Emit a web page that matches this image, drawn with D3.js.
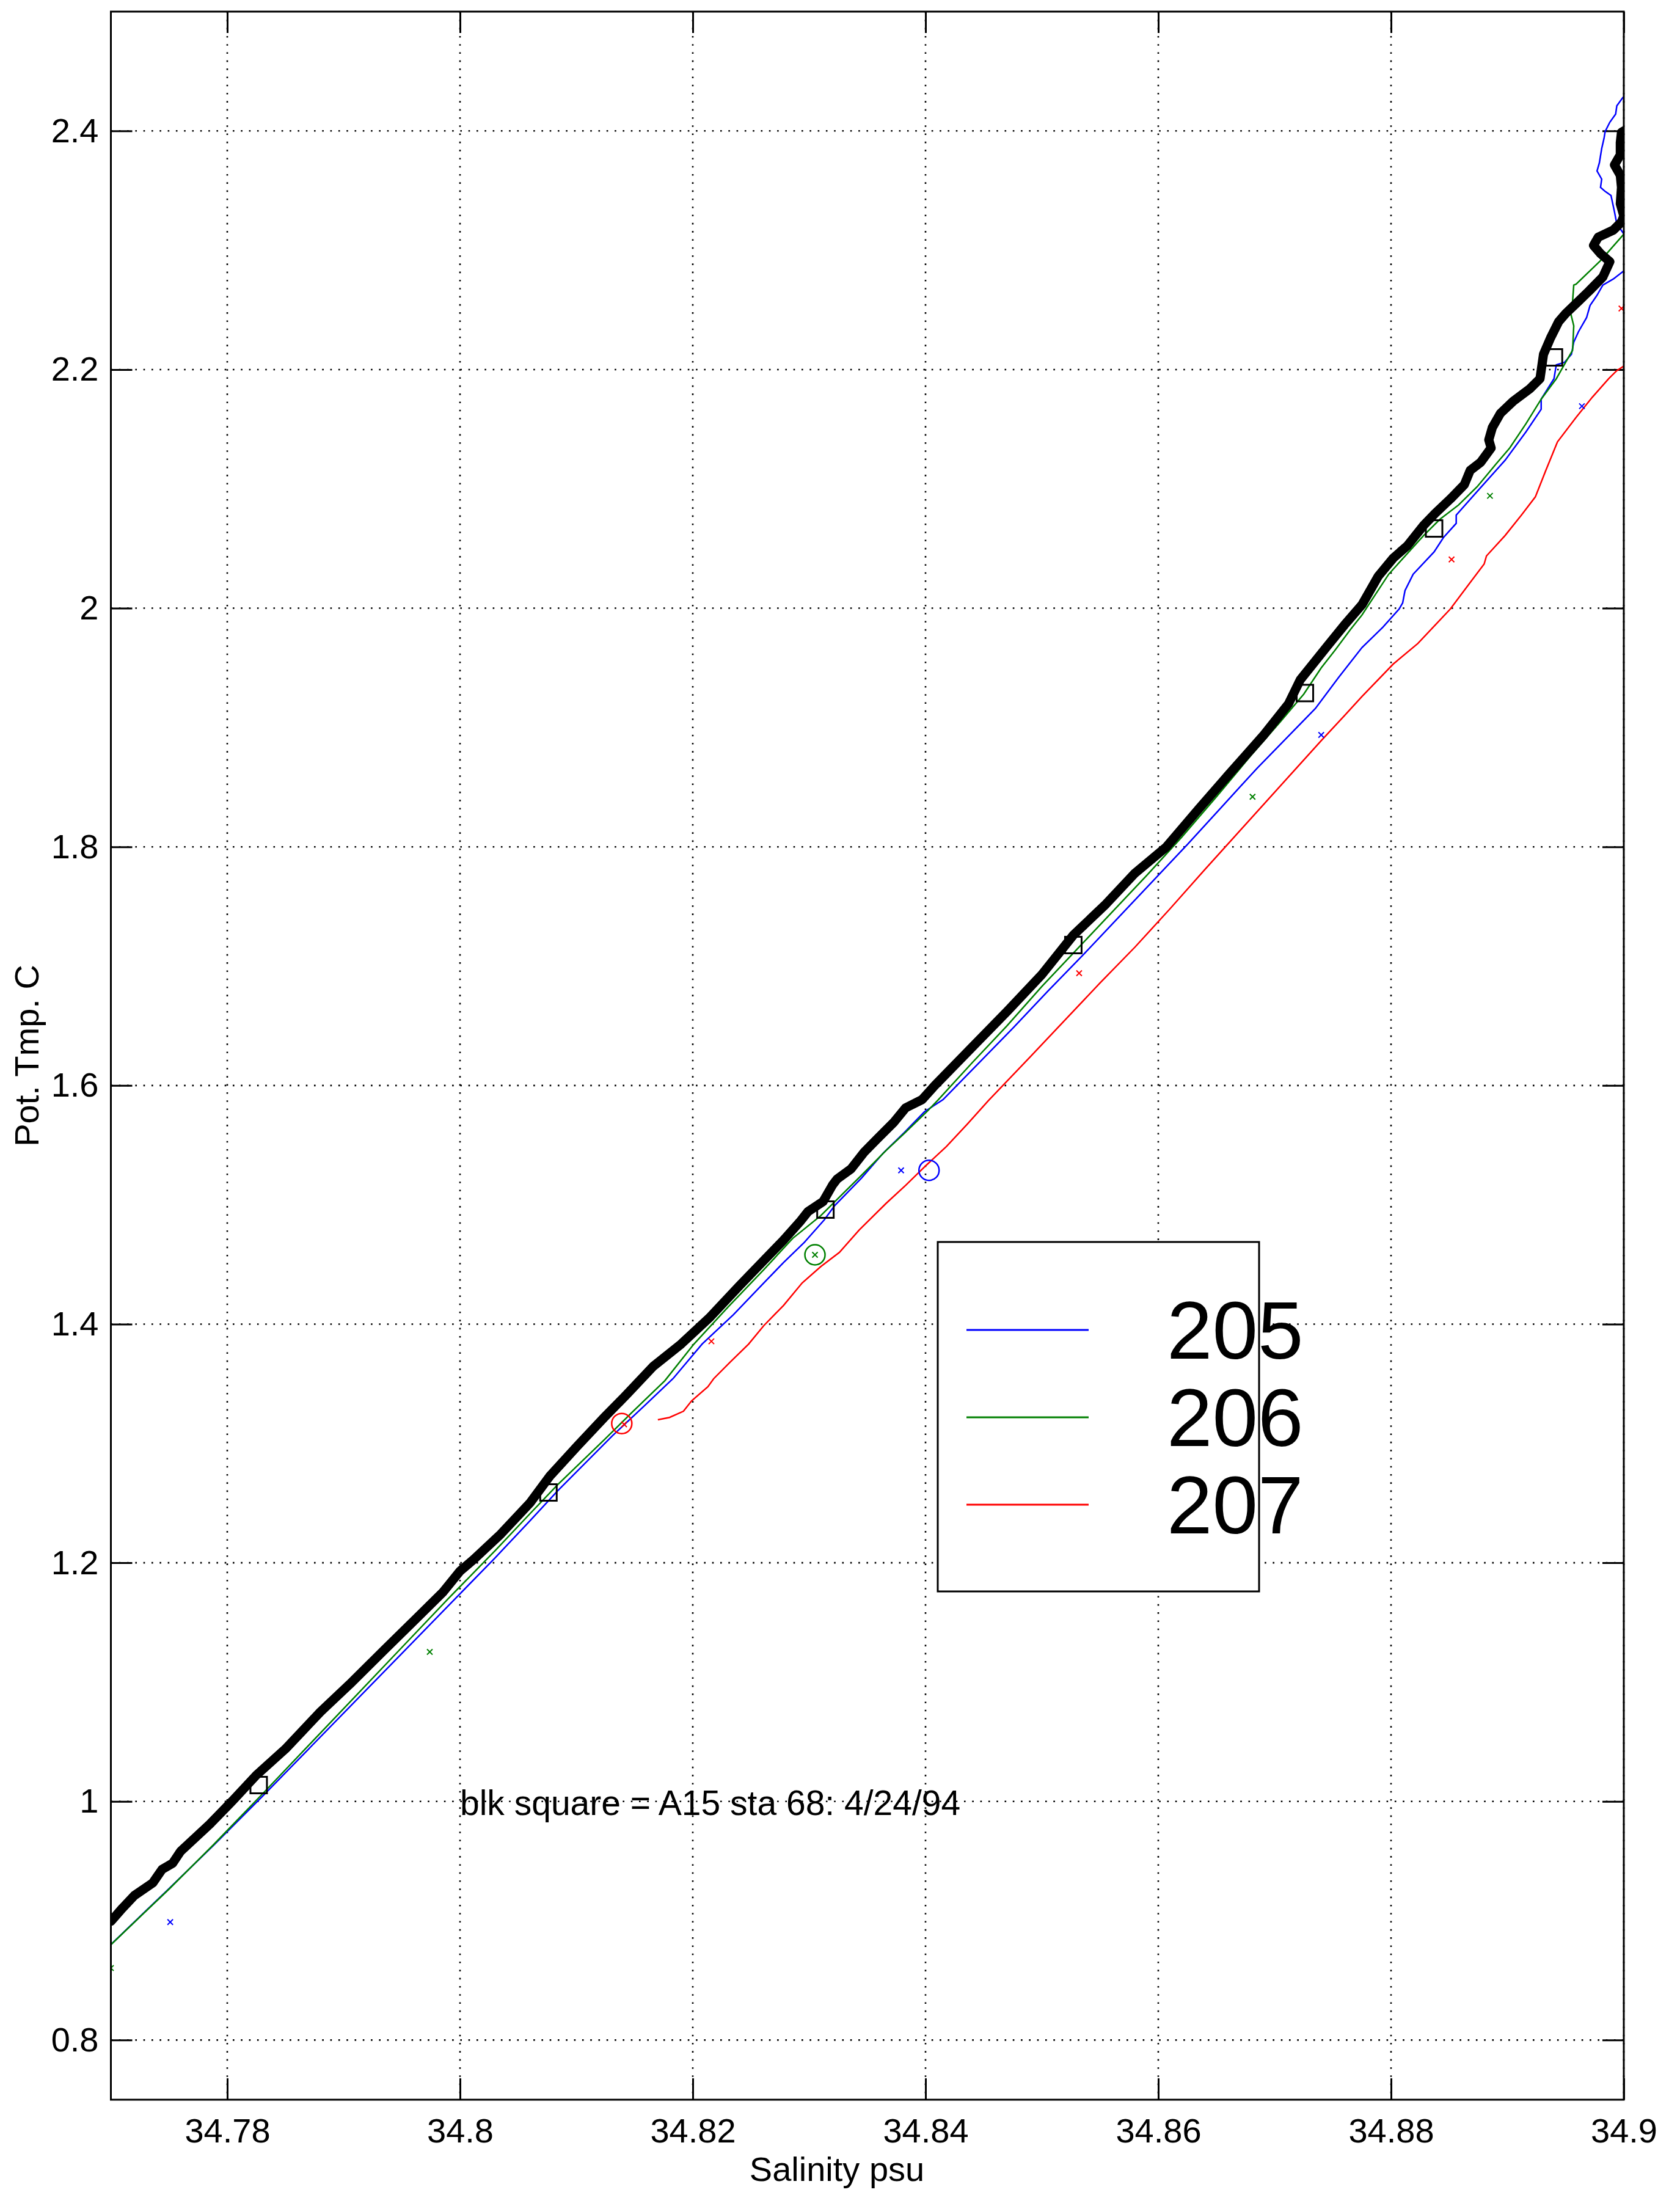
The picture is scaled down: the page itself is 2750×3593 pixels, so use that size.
<!DOCTYPE html>
<html>
<head>
<meta charset="utf-8">
<title>Pot. Tmp. vs Salinity</title>
<script src="https://d3js.org/d3.v7.min.js"></script>
<style>
  body { margin: 0; background: #fff; }
  svg { display: block; font-family: "Liberation Sans", Arial, sans-serif; }
  .grid line { stroke: #000; stroke-width: 2.6; stroke-dasharray: 2.6,10.7; }
  .tick line { stroke: #000; stroke-width: 3; }
  .tick text { font-size: 56px; fill: #000; }
</style>
</head>
<body>
<div id="chart"></div>
<script>
// tick values
const xTicks = [34.78, 34.8, 34.82, 34.84, 34.86, 34.88, 34.9];
const yTicks = [0.8, 1, 1.2, 1.4, 1.6, 1.8, 2, 2.2, 2.4];

// A15 sta 68 profile (salinity, pot. temp)
const sta68 = [[34.7700,0.8995],[34.7710,0.9106],[34.7720,0.9210],[34.7736,0.9317],[34.7744,0.9430],[34.7753,0.9481],[34.7760,0.9583],[34.7785,0.9809],[34.7805,1.0010],[34.7825,1.0220],[34.7850,1.0440],[34.7880,1.0750],[34.7905,1.0980],[34.7935,1.1270],[34.7960,1.1510],[34.7985,1.1750],[34.8000,1.1930],[34.8012,1.2030],[34.8035,1.2240],[34.8060,1.2500],[34.8077,1.2724],[34.8101,1.2980],[34.8124,1.3219],[34.8143,1.3408],[34.8166,1.3646],[34.8190,1.3833],[34.8215,1.4060],[34.8240,1.4320],[34.8261,1.4533],[34.8278,1.4704],[34.8292,1.4857],[34.8299,1.4943],[34.8312,1.5028],[34.8320,1.5164],[34.8324,1.5216],[34.8336,1.5301],[34.8347,1.5438],[34.8359,1.5557],[34.8373,1.5694],[34.8383,1.5813],[34.8397,1.5881],[34.8408,1.6000],[34.8440,1.6320],[34.8470,1.6620],[34.8500,1.6930],[34.8527,1.7260],[34.8555,1.7520],[34.8580,1.7780],[34.8607,1.8000],[34.8635,1.8320],[34.8660,1.8600],[34.8690,1.8930],[34.8712,1.9200],[34.8722,1.9400],[34.8745,1.9680],[34.8760,1.9860],[34.8775,2.0029],[34.8789,2.0268],[34.8802,2.0421],[34.8814,2.0523],[34.8828,2.0694],[34.8838,2.0796],[34.8851,2.0916],[34.8863,2.1036],[34.8868,2.1155],[34.8877,2.1223],[34.8886,2.1343],[34.8884,2.1411],[34.8887,2.1513],[34.8894,2.1633],[34.8905,2.1735],[34.8919,2.1837],[34.8928,2.1923],[34.8931,2.2128],[34.8937,2.2264],[34.8944,2.2401],[34.8950,2.2469],[34.8961,2.2572],[34.8970,2.2657],[34.8982,2.2776],[34.8988,2.2904],[34.8980,2.2972],[34.8974,2.3040],[34.8978,2.3109],[34.8991,2.3169],[34.8998,2.3237],[34.9000,2.3288],[34.8997,2.3390],[34.8998,2.3527],[34.8997,2.3629],[34.8992,2.3715],[34.8997,2.3800],[34.8997,2.3903],[34.8998,2.3988],[34.9000,2.4000]];
const sta68Squares = [[34.7827,1.0137],[34.8076,1.2589],[34.8314,1.4960],[34.8527,1.7177],[34.8726,1.9289],[34.8837,2.0668],[34.8940,2.2102]];

// stations 205, 206, 207
const st205 = [[34.7700,0.8800],[34.7750,0.9270],[34.7788,0.9630],[34.7830,1.0040],[34.7870,1.0440],[34.7910,1.0840],[34.7950,1.1240],[34.7990,1.1640],[34.8030,1.2040],[34.8060,1.2350],[34.8084,1.2604],[34.8131,1.3065],[34.8159,1.3321],[34.8183,1.3543],[34.8208,1.3833],[34.8235,1.4080],[34.8261,1.4345],[34.8278,1.4516],[34.8296,1.4687],[34.8313,1.4874],[34.8322,1.4994],[34.8345,1.5224],[34.8364,1.5437],[34.8382,1.5608],[34.8399,1.5779],[34.8415,1.5881],[34.8445,1.6180],[34.8475,1.6480],[34.8505,1.6790],[34.8535,1.7090],[34.8565,1.7400],[34.8595,1.7710],[34.8625,1.8020],[34.8655,1.8340],[34.8685,1.8660],[34.8712,1.8930],[34.8735,1.9160],[34.8755,1.9420],[34.8775,1.9670],[34.8793,1.9841],[34.8807,1.9994],[34.8810,2.0045],[34.8812,2.0148],[34.8819,2.0285],[34.8837,2.0472],[34.8845,2.0592],[34.8856,2.0711],[34.8856,2.0780],[34.8873,2.0967],[34.8898,2.1240],[34.8916,2.1479],[34.8929,2.1667],[34.8929,2.1752],[34.8940,2.1923],[34.8942,2.2040],[34.8949,2.2060],[34.8955,2.2128],[34.8957,2.2230],[34.8961,2.2316],[34.8968,2.2435],[34.8971,2.2537],[34.8977,2.2623],[34.8982,2.2708],[34.8991,2.2759],[34.9000,2.2827],[34.9010,2.3000],[34.8994,2.3220],[34.8992,2.3322],[34.8989,2.3459],[34.8984,2.3493],[34.8980,2.3527],[34.8981,2.3596],[34.8977,2.3664],[34.8979,2.3732],[34.8981,2.3852],[34.8983,2.3937],[34.8984,2.3996],[34.8988,2.4073],[34.8993,2.4141],[34.8994,2.4210],[34.8999,2.4278],[34.9005,2.4330]];
const st206 = [[34.7700,0.8799],[34.7750,0.9265],[34.7788,0.9635],[34.7830,1.0060],[34.7870,1.0470],[34.7910,1.0880],[34.7950,1.1290],[34.7990,1.1700],[34.8030,1.2100],[34.8060,1.2410],[34.8084,1.2655],[34.8124,1.3031],[34.8147,1.3253],[34.8176,1.3526],[34.8201,1.3833],[34.8230,1.4140],[34.8261,1.4456],[34.8286,1.4720],[34.8310,1.4909],[34.8331,1.5113],[34.8347,1.5267],[34.8366,1.5455],[34.8382,1.5600],[34.8401,1.5779],[34.8411,1.5881],[34.8440,1.6190],[34.8470,1.6500],[34.8500,1.6830],[34.8530,1.7140],[34.8560,1.7450],[34.8590,1.7760],[34.8620,1.8080],[34.8650,1.8420],[34.8680,1.8770],[34.8705,1.9050],[34.8725,1.9280],[34.8740,1.9500],[34.8752,1.9650],[34.8765,1.9820],[34.8775,1.9943],[34.8798,2.0285],[34.8828,2.0609],[34.8842,2.0745],[34.8858,2.0865],[34.8874,2.1018],[34.8890,2.1206],[34.8902,2.1343],[34.8916,2.1547],[34.8929,2.1752],[34.8942,2.1923],[34.8950,2.2060],[34.8956,2.2162],[34.8957,2.2367],[34.8954,2.2486],[34.8956,2.2572],[34.8957,2.2708],[34.8959,2.2716],[34.8980,2.2913],[34.9000,2.3135],[34.9003,2.3200]];
const st207 = [[34.8170,1.3198],[34.8180,1.3218],[34.8192,1.3270],[34.8199,1.3357],[34.8213,1.3475],[34.8218,1.3543],[34.8232,1.3680],[34.8248,1.3833],[34.8261,1.3987],[34.8278,1.4157],[34.8294,1.4345],[34.8310,1.4482],[34.8326,1.4601],[34.8343,1.4789],[34.8366,1.5011],[34.8383,1.5164],[34.8401,1.5335],[34.8418,1.5489],[34.8436,1.5677],[34.8454,1.5873],[34.8490,1.6240],[34.8520,1.6550],[34.8550,1.6860],[34.8580,1.7160],[34.8610,1.7480],[34.8640,1.7810],[34.8665,1.8080],[34.8690,1.8350],[34.8715,1.8620],[34.8740,1.8890],[34.8760,1.9100],[34.8775,1.9260],[34.8802,1.9533],[34.8823,1.9704],[34.8851,1.9994],[34.8868,2.0216],[34.8880,2.0370],[34.8882,2.0438],[34.8898,2.0609],[34.8912,2.0780],[34.8924,2.0933],[34.8933,2.1155],[34.8943,2.1394],[34.8959,2.1599],[34.8973,2.1769],[34.8987,2.1923],[34.8994,2.1991],[34.9002,2.2042]];

// bottle values (x markers) and circled points
const bottles205 = [[34.7751,0.8989],[34.8379,1.5289],[34.8740,1.8938],[34.8964,2.1693]];
const bottles206 = [[34.7700,0.8603],[34.7974,1.1253],[34.8305,1.4581],[34.8681,1.8420],[34.8885,2.0942]];
const bottles207 = [[34.8141,1.3160],[34.8216,1.3856],[34.8532,1.6941],[34.8852,2.0409],[34.8998,2.2512]];
const circles = [[34.8403,1.5289],[34.8305,1.4581],[34.8139,1.3167]];

const stations = ["205", "206", "207"];
const colors = ["#0000ff", "#008000", "#ff0000"];
const note = "blk square = A15 sta 68: 4/24/94";

const W = 2750, H = 3593;
const margin = {top: 19, right: 92, bottom: 156, left: 181.5};
const w = W - margin.left - margin.right;
const h = H - margin.top - margin.bottom;

const svg = d3.select("#chart").append("svg")
    .attr("width", W).attr("height", H);
const g = svg.append("g")
    .attr("transform", "translate(" + margin.left + "," + margin.top + ")");

const x = d3.scaleLinear().domain([34.77, 34.9]).range([0, w]);
const y = d3.scaleLinear().domain([0.75, 2.5]).range([h, 0]);
const fmt = d => String(+d.toFixed(2));

g.append("clipPath").attr("id", "clip")
  .append("rect").attr("width", w).attr("height", h);

// grid
const grid = g.append("g").attr("class", "grid");
grid.selectAll(".gx").data(xTicks).enter().append("line")
    .attr("x1", d => x(d)).attr("x2", d => x(d)).attr("y1", 0).attr("y2", h);
grid.selectAll(".gy").data(yTicks).enter().append("line")
    .attr("y1", d => y(d)).attr("y2", d => y(d)).attr("x1", 0).attr("x2", w);

// axes, ticks pointing inward on all four sides
g.append("g").attr("transform", "translate(0," + h + ")")
  .call(d3.axisBottom(x).tickValues(xTicks).tickFormat(fmt).tickSize(-35).tickSizeOuter(0).tickPadding(30));
g.append("g")
  .call(d3.axisTop(x).tickValues(xTicks).tickFormat("").tickSize(-35).tickSizeOuter(0));
g.append("g")
  .call(d3.axisLeft(y).tickValues(yTicks).tickFormat(fmt).tickSize(-35).tickSizeOuter(0).tickPadding(20));
g.append("g").attr("transform", "translate(" + w + ",0)")
  .call(d3.axisRight(y).tickValues(yTicks).tickFormat("").tickSize(-35).tickSizeOuter(0));
g.selectAll(".domain").remove();
g.selectAll(".tick text").attr("font-family", "Liberation Sans, Arial, sans-serif");

// lines
const line = d3.line().x(d => x(d[0])).y(d => y(d[1]));
const plot = g.append("g").attr("clip-path", "url(#clip)");

[st205, st206, st207].forEach((s, i) => {
  plot.append("path").datum(s)
      .attr("d", line).attr("fill", "none")
      .attr("stroke", colors[i]).attr("stroke-width", 2.5);
});

plot.append("path").datum(sta68)
    .attr("d", line).attr("fill", "none")
    .attr("stroke", "#000").attr("stroke-width", 15)
    .attr("stroke-linejoin", "round").attr("stroke-linecap", "round");

plot.selectAll(".sq").data(sta68Squares).enter().append("rect")
    .attr("x", d => x(d[0]) - 13.5).attr("y", d => y(d[1]) - 13.5)
    .attr("width", 27).attr("height", 27)
    .attr("fill", "none").attr("stroke", "#000").attr("stroke-width", 3);

[bottles205, bottles206, bottles207].forEach((s, i) => {
  plot.selectAll(".bx" + i).data(s).enter().append("path")
      .attr("transform", d => "translate(" + x(d[0]) + "," + y(d[1]) + ")")
      .attr("d", "M-4.5,-4.5L4.5,4.5M-4.5,4.5L4.5,-4.5")
      .attr("stroke", colors[i]).attr("stroke-width", 2);
});

plot.selectAll(".ci").data(circles).enter().append("circle")
    .attr("cx", d => x(d[0])).attr("cy", d => y(d[1])).attr("r", 16.5)
    .attr("fill", "none").attr("stroke", (d, i) => colors[i]).attr("stroke-width", 2.5);

// box
g.append("rect").attr("width", w).attr("height", h)
  .attr("fill", "none").attr("stroke", "#000").attr("stroke-width", 3);

// annotation
g.append("text")
  .attr("x", x(34.80)).attr("y", y(1.0) + 22)
  .attr("font-size", "57px")
  .text(note);

// legend
const lg = svg.append("g").attr("transform", "translate(1535,2033)");
lg.append("rect").attr("width", 526).attr("height", 572)
  .attr("fill", "#fff").attr("stroke", "#000").attr("stroke-width", 3);
stations.forEach((s, i) => {
  const yy = 144 + i * 143;
  lg.append("line").attr("x1", 47).attr("x2", 247).attr("y1", yy).attr("y2", yy)
    .attr("stroke", colors[i]).attr("stroke-width", 3);
  lg.append("text").attr("x", 375).attr("y", yy + 47)
    .attr("font-size", "134px").text(s);
});

// axis labels
svg.append("text")
  .attr("x", 1370).attr("y", 3570)
  .attr("text-anchor", "middle").attr("font-size", "56px")
  .text("Salinity psu");
svg.append("text")
  .attr("transform", "translate(63," + (margin.top + h / 2) + ") rotate(-90)")
  .attr("text-anchor", "middle").attr("font-size", "56px")
  .text("Pot. Tmp. C");
</script>
</body>
</html>
